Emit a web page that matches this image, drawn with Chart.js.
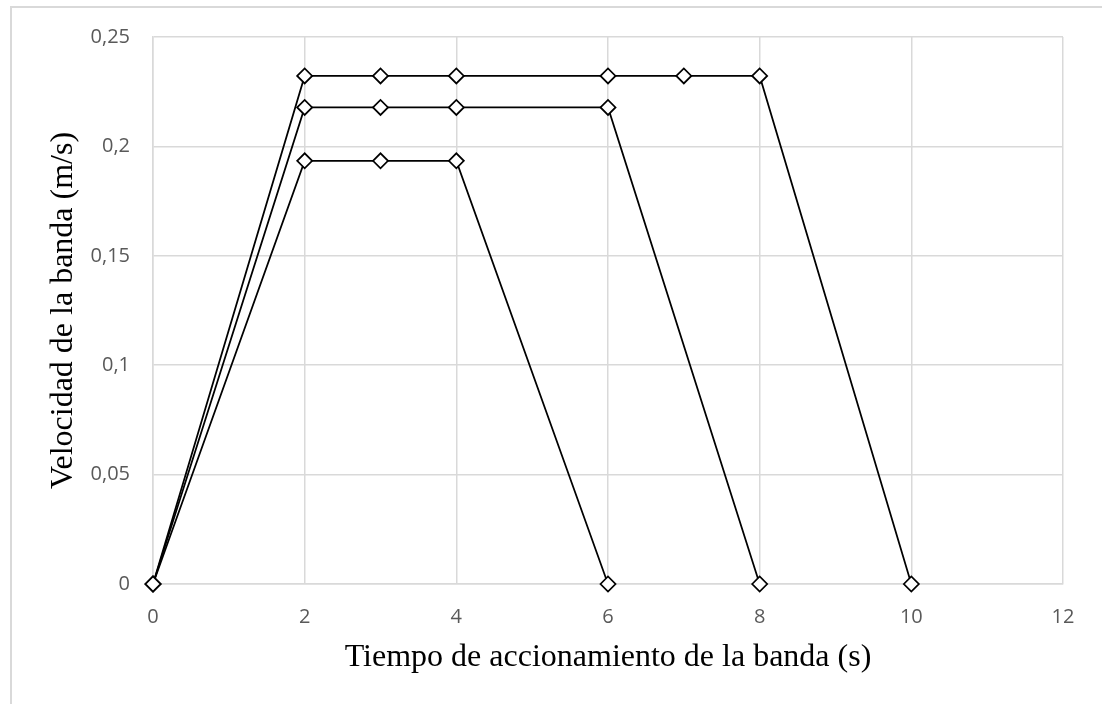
<!DOCTYPE html>
<html>
<head>
<meta charset="utf-8">
<script src="https://cdn.jsdelivr.net/npm/chart.js@4"></script>
<style>
    html, body { margin: 0; padding: 0; background: #fff; }
    #wrap { position: relative; width: 1102px; height: 704px; overflow: hidden; }
    #frame { position: absolute; left: 10px; top: 6px; width: 1200px; height: 800px; border: 2px solid #d9d9d9; box-sizing: border-box; }
    canvas { position: absolute; left: 0; top: 0; }
</style>
</head>
<body>
<div id="wrap">
    <div id="frame"></div>
    <canvas id="chart" width="1102" height="704"></canvas>
</div>
<script>
// --- Data ---
const timeShort = [0, 2, 3, 4, 6];
const speedShort = [0, 0.1934, 0.1934, 0.1934, 0];

const timeMid = [0, 2, 3, 4, 6, 8];
const speedMid = [0, 0.2178, 0.2178, 0.2178, 0.2178, 0];

const timeLong = [0, 2, 3, 4, 6, 7, 8, 10];
const speedLong = [0, 0.2322, 0.2322, 0.2322, 0.2322, 0.2322, 0.2322, 0];

const xTitle = 'Tiempo de accionamiento de la banda (s)';
const yTitle = 'Velocidad de la banda (m/s)';

function toPoints(xs, ys) {
    return xs.map((x, i) => ({ x: x, y: ys[i] }));
}

function makeSeries(label, xs, ys) {
    return {
        label: label,
        data: toPoints(xs, ys),
        borderColor: '#000',
        borderWidth: 1.75,
        pointStyle: 'rectRot',
        pointRadius: 7.5,
        pointBackgroundColor: '#fff',
        pointBorderColor: '#000',
        pointBorderWidth: 1.75,
        tension: 0,
        fill: false,
        clip: false
    };
}

const tickFont = { family: 'Open Sans', size: 20 };
const titleFont = { family: 'Liberation Serif', size: 32 };

new Chart(document.getElementById('chart'), {
    type: 'line',
    data: {
        datasets: [
            makeSeries('6 s', timeShort, speedShort),
            makeSeries('8 s', timeMid, speedMid),
            makeSeries('10 s', timeLong, speedLong)
        ]
    },
    options: {
        responsive: false,
        animation: false,
        layout: { padding: { left: 0, right: 39, top: 37, bottom: 0 } },
        plugins: { legend: { display: false }, tooltip: { enabled: false } },
        scales: {
            x: {
                type: 'linear',
                min: 0,
                max: 12,
                ticks: { stepSize: 2, color: '#595959', font: tickFont, padding: 21 },
                grid: { color: '#d9d9d9', lineWidth: 1.5, drawTicks: false },
                border: { color: '#d9d9d9', width: 1.5 },
                title: { display: true, text: xTitle, color: '#000', font: titleFont, padding: { top: 0, bottom: 27 } },
                afterFit: (scale) => { scale.height = 120; }
            },
            y: {
                min: 0,
                max: 0.25,
                ticks: {
                    stepSize: 0.05,
                    color: '#595959',
                    font: tickFont,
                    padding: 23,
                    callback: (v) => Number(v.toFixed(2)).toString().replace('.', ',')
                },
                grid: { color: '#d9d9d9', lineWidth: 1.5, drawTicks: false },
                border: { color: '#d9d9d9', width: 1.5 },
                title: { display: true, text: yTitle, color: '#000', font: titleFont, padding: { top: 44, bottom: 0 } },
                afterFit: (scale) => { scale.width = 153; }
            }
        }
    }
});
</script>
</body>
</html>
